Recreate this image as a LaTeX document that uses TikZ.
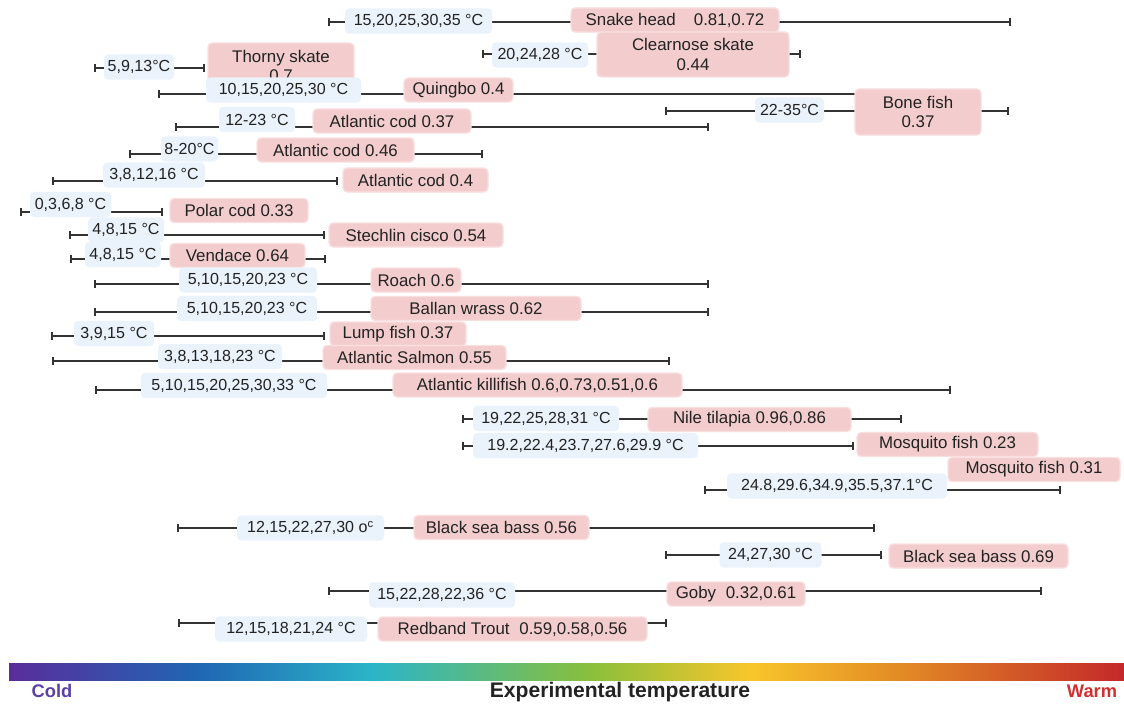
\documentclass[tikz,border=0pt]{standalone}
\usepackage{fontspec}
\setmainfont{Liberation Sans}
\usetikzlibrary{arrows.meta}

\definecolor{tempblue}{HTML}{EAF2FB}
\definecolor{fishpink}{HTML}{F3CDCD}
\definecolor{fishedge}{HTML}{F9DFDF}
\definecolor{barline}{HTML}{333333}
\definecolor{labeltext}{HTML}{222222}
\definecolor{coldc}{HTML}{5B3FA8}
\definecolor{warmc}{HTML}{D32F2F}
\definecolor{scl0}{HTML}{5A2D9C}
\definecolor{scl1}{HTML}{1F66B3}
\definecolor{scl2}{HTML}{2BB5C8}
\definecolor{scl3}{HTML}{89BF3C}
\definecolor{scl4}{HTML}{F8C62B}
\definecolor{scl5}{HTML}{E28A25}
\definecolor{scl6}{HTML}{C4282A}

\pgfdeclarehorizontalshading{tempscale}{100bp}{color(0bp)=(scl0); color(25bp)=(scl0);
  color(33.5bp)=(scl1); color(41.3bp)=(scl2); color(51bp)=(scl3); color(58.2bp)=(scl4);
  color(65bp)=(scl5); color(75bp)=(scl6); color(100bp)=(scl6)}

\begin{document}
\begin{tikzpicture}[x=0.025cm,y=-0.025cm,font=\fontsize{12}{14}\selectfont,
  rangebar/.style={line width=1.3pt,draw=barline,{Bar[width=5pt]}-{Bar[width=5pt]}},
  temp/.style={fill=tempblue,rounded corners=3pt,text=labeltext,inner sep=1pt,
    font=\fontsize{11.4}{13}\selectfont,minimum height=0.63cm,minimum width={#1*0.025cm}},
  fish/.style={fill=fishpink,draw=fishedge,line width=1pt,rounded corners=3pt,text=labeltext,
    inner sep=1pt,minimum height=0.6cm,minimum width={#1*0.025cm},align=center}]
  \useasboundingbox (0,0) rectangle (1124,704);
  % Snake head
  \draw[rangebar] (328,22) -- (1011,22);
  \node[temp=147] (snake-t) at (418.5,21) {15,20,25,30,35 °C};
  \node[fish=208] (snake-f) at (675,20) {Snake head\hspace{0.8em} 0.81,0.72};
  % Thorny skate
  \draw[rangebar] (94,68) -- (205,68);
  \node[temp=70] (thorny-t) at (139,67) {5,9,13°C};
  \node[fish=146,minimum height=1.15cm] (thorny-f) at (281,66) {Thorny skate\\0.7};
  % Clearnose skate
  \draw[rangebar] (482,54) -- (801,54);
  \node[temp=96] (clear-t) at (540,55) {20,24,28 °C};
  \node[fish=192,minimum height=1.125cm] (clear-f) at (693,54.5) {Clearnose skate\\0.44};
  % Quingbo
  \draw[rangebar] (158,94) -- (862,94);
  \node[temp=155] (quing-t) at (283.5,90) {10,15,20,25,30 °C};
  \node[fish=109] (quing-f) at (458.5,90) {Quingbo 0.4};
  % Bone fish
  \draw[rangebar] (665,111) -- (1009,111);
  \node[temp=69] (bone-t) at (789.5,110) {22-35°C};
  \node[fish=126,minimum height=1.15cm] (bone-f) at (918,112) {Bone fish\\0.37};
  % Atlantic cod 0.37
  \draw[rangebar] (175,127) -- (709,127);
  \node[temp=76] (cod1-t) at (257,119.5) {12-23 °C};
  \node[fish=158] (cod1-f) at (392,121) {Atlantic cod 0.37};
  % Atlantic cod 0.46
  \draw[rangebar] (129,154) -- (483,154);
  \node[temp=57] (cod2-t) at (189.5,149) {8-20°C};
  \node[fish=157] (cod2-f) at (335.5,150) {Atlantic cod 0.46};
  % Atlantic cod 0.4
  \draw[rangebar] (52,181) -- (338,181);
  \node[temp=102] (cod3-t) at (154,175) {3,8,12,16 °C};
  \node[fish=145] (cod3-f) at (415.5,180) {Atlantic cod 0.4};
  % Polar cod
  \draw[rangebar] (20,212) -- (163,212);
  \node[temp=81] (polar-t) at (70.5,204.5) {0,3,6,8 °C};
  \node[fish=138] (polar-f) at (239,210.5) {Polar cod 0.33};
  % Stechlin cisco
  \draw[rangebar] (69,235) -- (325,235);
  \node[temp=76] (cisco-t) at (126,230) {4,8,15 °C};
  \node[fish=174] (cisco-f) at (416,235) {Stechlin cisco 0.54};
  % Vendace
  \draw[rangebar] (70,259) -- (326,259);
  \node[temp=76] (vend-t) at (123,254.5) {4,8,15 °C};
  \node[fish=135] (vend-f) at (237.5,255.5) {Vendace 0.64};
  % Roach
  \draw[rangebar] (94,284) -- (709,284);
  \node[temp=138] (roach-t) at (248,280) {5,10,15,20,23 °C};
  \node[fish=90] (roach-f) at (416,280) {Roach 0.6};
  % Ballan wrass
  \draw[rangebar] (94,312) -- (709,312);
  \node[temp=140] (ballan-t) at (247,308.5) {5,10,15,20,23 °C};
  \node[fish=210] (ballan-f) at (476,308.5) {Ballan wrass 0.62};
  % Lump fish
  \draw[rangebar] (51,336) -- (325,336);
  \node[temp=80] (lump-t) at (114,333.5) {3,9,15 °C};
  \node[fish=136] (lump-f) at (398,334) {Lump fish 0.37};
  % Atlantic Salmon
  \draw[rangebar] (52,361) -- (670,361);
  \node[temp=124] (salmon-t) at (220,356.5) {3,8,13,18,23 °C};
  \node[fish=183] (salmon-f) at (414.5,357.5) {Atlantic Salmon 0.55};
  % Atlantic killifish
  \draw[rangebar] (95,390) -- (951,390);
  \node[temp=186] (killi-t) at (234,385.5) {5,10,15,20,25,30,33 °C};
  \node[fish=289] (killi-f) at (537.5,385) {Atlantic killifish 0.6,0.73,0.51,0.6};
  % Nile tilapia
  \draw[rangebar] (462,419) -- (902,419);
  \node[temp=146] (nile-t) at (546,418.5) {19,22,25,28,31 °C};
  \node[fish=203] (nile-f) at (749.5,419.5) {Nile tilapia 0.96,0.86};
  % Mosquito fish 0.23
  \draw[rangebar] (462,446) -- (854,446);
  \node[temp=225] (mosq1-t) at (585.5,445.5) {19.2,22.4,23.7,27.6,29.9 °C};
  \node[fish=181] (mosq1-f) at (947.5,444.5) {Mosquito fish 0.23};
  % Mosquito fish 0.31
  \draw[rangebar] (704,490) -- (1061,490);
  \node[fish=172] (mosq2-f) at (1034,469.5) {Mosquito fish 0.31};
  \node[temp=220] (mosq2-t) at (837,486) {24.8,29.6,34.9,35.5,37.1°C};
  % Black sea bass 0.56
  \draw[rangebar] (177,528) -- (875,528);
  \node[temp=147] (bass1-t) at (310.5,528) {12,15,22,27,30 o\textsuperscript{c}};
  \node[fish=175] (bass1-f) at (501.5,527.5) {Black sea bass 0.56};
  % Black sea bass 0.69
  \draw[rangebar] (665,555) -- (882,555);
  \node[temp=102] (bass2-t) at (770.5,555) {24,27,30 °C};
  \node[fish=179] (bass2-f) at (978.5,556) {Black sea bass 0.69};
  % Goby
  \draw[rangebar] (328,591) -- (1042,591);
  \node[temp=146] (goby-t) at (442,595) {15,22,28,22,36 °C};
  \node[fish=138] (goby-f) at (736,594) {Goby\hspace{0.3em} 0.32,0.61};
  % Redband Trout
  \draw[rangebar] (178,623) -- (667,623);
  \node[temp=152] (trout-t) at (291,629) {12,15,18,21,24 °C};
  \node[fish=269] (trout-f) at (512.5,629) {Redband Trout\hspace{0.3em} 0.59,0.58,0.56};
  % temperature scale
  \shade[shading=tempscale] (9,663.5) rectangle (1124,680);
  \node[font=\fontsize{13}{15}\selectfont\bfseries,text=coldc] (cold) at (52,691) {Cold};
  \node[font=\fontsize{15}{17}\selectfont\bfseries,text=labeltext] (axis) at (620,692) {Experimental temperature};
  \node[font=\fontsize{13}{15}\selectfont\bfseries,text=warmc] (warm) at (1092,691) {Warm};
\end{tikzpicture}
\end{document}
